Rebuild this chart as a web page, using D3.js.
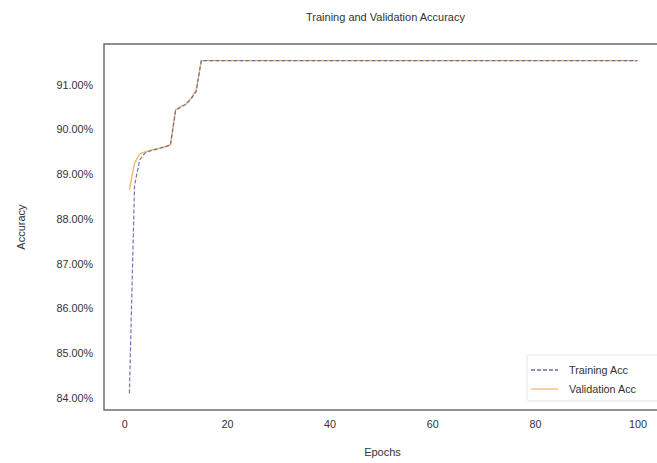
<!DOCTYPE html>
<html><head><meta charset="utf-8">
<script src="https://cdn.jsdelivr.net/npm/d3@7"></script>
<style>body{margin:0;background:#fff}svg{font-family:"Liberation Sans",Arial,sans-serif}</style>
</head><body><svg id="c" width="657" height="463"></svg>
<script>
const epochs = d3.range(1, 101);
const trainAcc = [84.10, 88.75, 89.32, 89.47, 89.52, 89.55, 89.58, 89.61, 89.66, 90.42, 90.50, 90.56, 90.68, 90.85,
  ...Array(86).fill(91.54)];
const valAcc = [88.65, 89.25, 89.45, 89.50, 89.53, 89.56, 89.59, 89.62, 89.66, 90.45, 90.51, 90.57, 90.70, 90.88,
  ...Array(86).fill(91.54)];
const yTicks = [84, 85, 86, 87, 88, 89, 90, 91];
const xTicks = [0, 20, 40, 60, 80, 100];

const svg = d3.select("#c");
const L = 104, R = 663, T = 44, B = 410;
const allV = trainAcc.concat(valAcc);
const vmin = d3.min(allV), vmax = d3.max(allV), vr = vmax - vmin;
const x = d3.scaleLinear().domain([1 - 0.05 * 99, 100 + 0.05 * 99]).range([L, R]);
const y = d3.scaleLinear().domain([vmin - 0.05 * vr, vmax + 0.05 * vr]).range([B, T]);

svg.append("text").attr("x", (L + R) / 2 + 2).attr("y", 21).attr("text-anchor", "middle")
  .attr("font-size", 11).attr("fill", "#333").text("Training and Validation Accuracy");

const yAxis = svg.append("g").attr("transform", `translate(${L},0)`)
  .call(d3.axisLeft(y).tickValues(yTicks).tickSize(0).tickPadding(11).tickFormat(d => d.toFixed(2) + "%"));
const xAxis = svg.append("g").attr("transform", `translate(0,${B})`)
  .call(d3.axisBottom(x).tickValues(xTicks).tickSize(0).tickPadding(10));
[yAxis, xAxis].forEach(g => {
  g.select(".domain").remove();
  g.selectAll("text").attr("font-size", 10.8).attr("fill", "#333").attr("font-family", "Liberation Sans, Arial, sans-serif");
});

svg.append("text").attr("x", (L + R) / 2 - 1).attr("y", 456).attr("text-anchor", "middle")
  .attr("font-size", 11).attr("fill", "#333").text("Epochs");
svg.append("text").attr("transform", `translate(25,${(T + B) / 2}) rotate(-90)`).attr("text-anchor", "middle")
  .attr("font-size", 11).attr("fill", "#333").text("Accuracy");

const line = d3.line().x((d, i) => x(epochs[i])).y(d => y(d));
svg.append("path").datum(valAcc).attr("d", line).attr("fill", "none")
  .attr("stroke", "#f2b050").attr("stroke-width", 1.4).attr("opacity", 0.85);
svg.append("path").datum(trainAcc).attr("d", line).attr("fill", "none")
  .attr("stroke", "#4a56a8").attr("stroke-width", 1.2).attr("stroke-dasharray", "4,2").attr("opacity", 0.8);

svg.append("rect").attr("x", L).attr("y", T).attr("width", R - L).attr("height", B - T)
  .attr("fill", "none").attr("stroke", "#555").attr("stroke-width", 1.3);

// legend
const lg = svg.append("g");
lg.append("rect").attr("x", 527).attr("y", 355).attr("width", 145).attr("height", 46)
  .attr("fill", "#fff").attr("fill-opacity", 0.8).attr("stroke", "#ddd").attr("stroke-width", 0.8).attr("rx", 2);
const items = [["Training Acc", "#4a56a8", "4,2"], ["Validation Acc", "#f2b050", null]];
items.forEach((it, i) => {
  const yy = 370 + i * 19;
  lg.append("line").attr("x1", 531).attr("x2", 558).attr("y1", yy).attr("y2", yy)
    .attr("stroke", it[1]).attr("stroke-width", 1.3).attr("stroke-dasharray", it[2]).attr("opacity", 0.85);
  lg.append("text").attr("x", 569).attr("y", yy + 4).attr("font-size", 10.8).attr("fill", "#333").text(it[0]);
});
</script></body></html>
